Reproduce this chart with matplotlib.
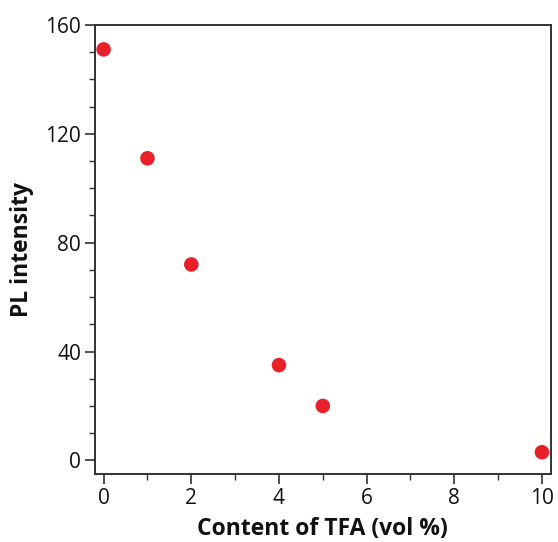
import matplotlib
matplotlib.use("Agg")
import matplotlib.pyplot as plt
from matplotlib.ticker import MultipleLocator

tfa_content = [0, 1, 2, 4, 5, 10]
pl_intensity = [151, 111, 72, 35, 20, 3]
x_ticks = [0, 2, 4, 6, 8, 10]
y_ticks = [0, 40, 80, 120, 160]

plt.rcParams['font.family'] = ['Open Sans', 'DejaVu Sans']

fig = plt.figure(figsize=(5.58, 5.42), dpi=100)
ax = fig.add_axes([0.170, 0.1255, 0.817, 0.8285])

ax.scatter(tfa_content, pl_intensity, s=110, color='#e8202a', edgecolors='none', zorder=3)

ax.set_xlim(-0.2, 10.2)
ax.set_ylim(-5, 160)
ax.set_xticks(x_ticks)
ax.set_yticks(y_ticks)
ax.xaxis.set_minor_locator(MultipleLocator(1))
ax.yaxis.set_minor_locator(MultipleLocator(10))
ax.tick_params(axis='both', which='major', direction='out', length=7, width=1.2,
               labelsize=15, color='#333333', labelcolor='#111111', pad=3)
ax.tick_params(axis='both', which='minor', direction='out', length=4, width=1.0, color='#333333')
ax.tick_params(top=False, right=False)
for lab in ax.get_xticklabels() + ax.get_yticklabels():
    lab.set_fontweight('medium')
for s in ax.spines.values():
    s.set_linewidth(1.4)
    s.set_color('#333333')

ax.set_xlabel('Content of TFA (vol %)', fontsize=16.5, fontweight='bold', labelpad=6, color='#111111')
ax.set_ylabel('PL intensity', fontsize=16.5, fontweight='bold', labelpad=8, color='#111111')

fig.savefig('out.png', dpi=100)
